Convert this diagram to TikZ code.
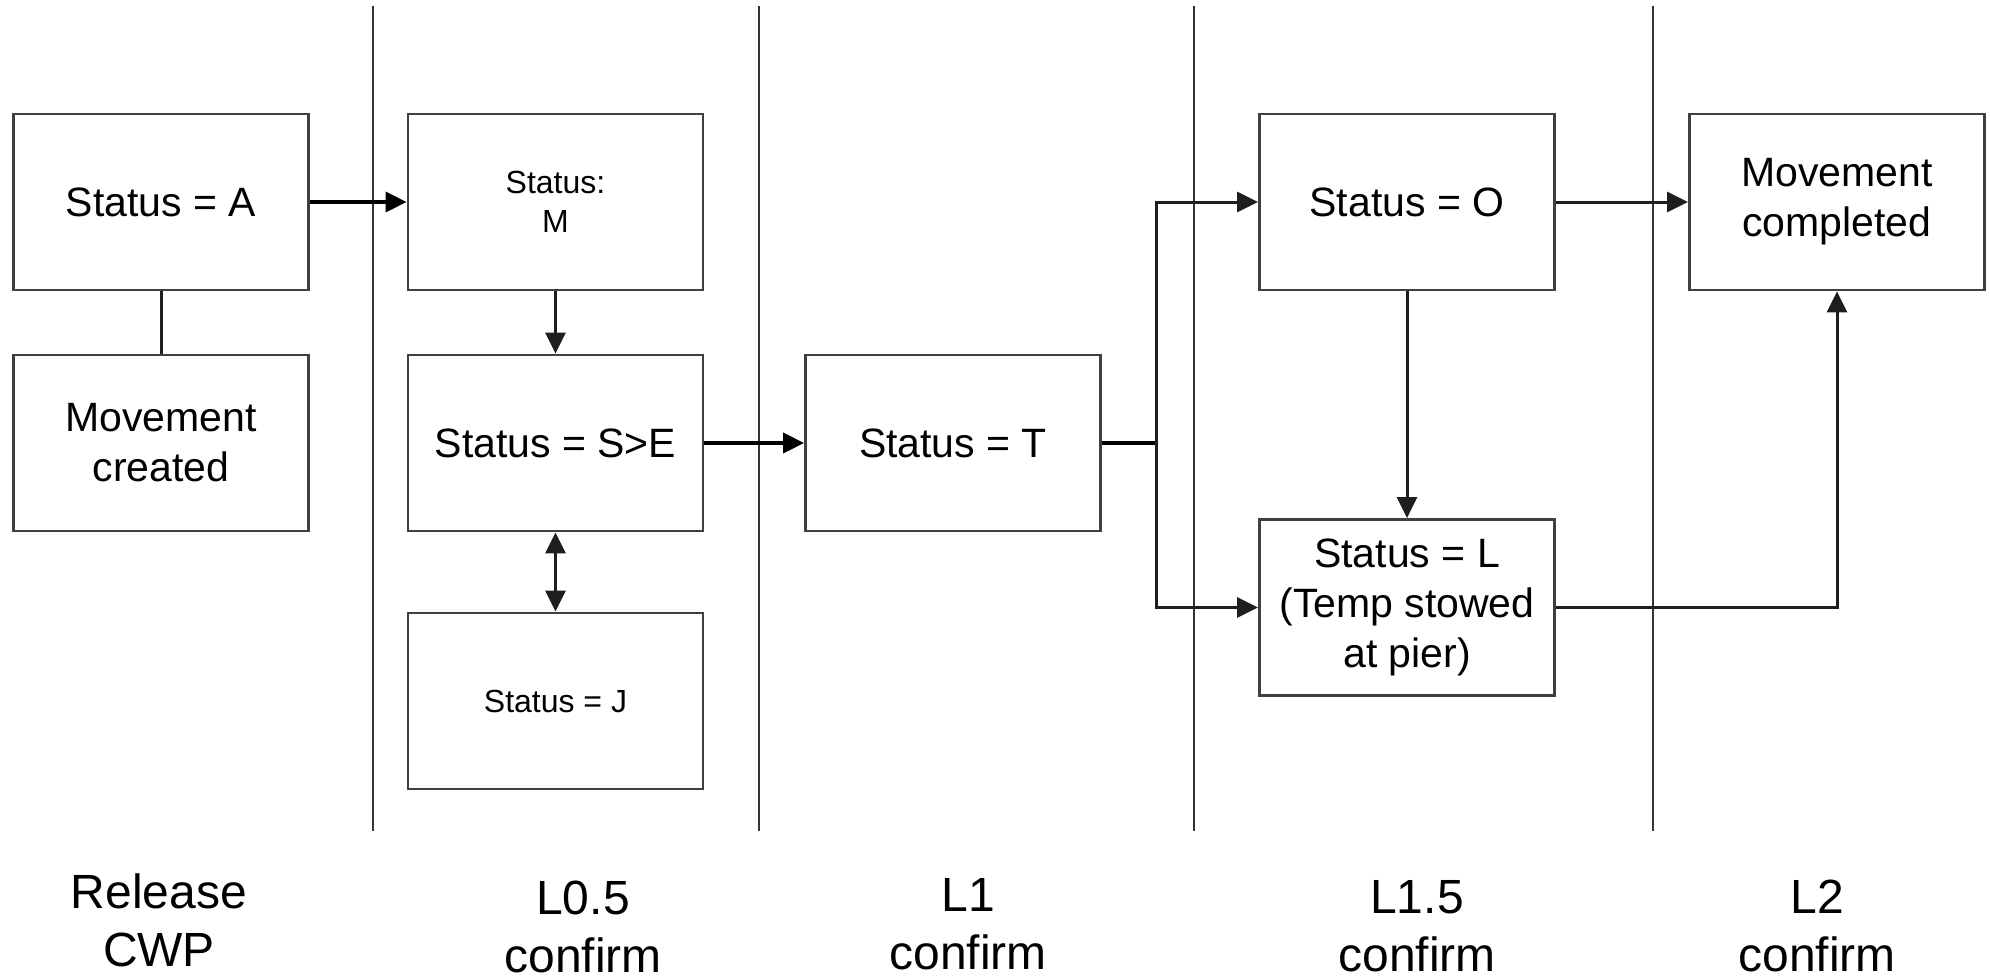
\documentclass[tikz,border=0pt]{standalone}
\usepackage{fontspec}
\setmainfont{Liberation Sans}
\usetikzlibrary{arrows.meta}
\definecolor{boxgray}{HTML}{404040}
\definecolor{sepgray}{HTML}{333333}
\definecolor{arrgray}{HTML}{1E1E1E}
\begin{document}
\begin{tikzpicture}[x=1pt,y=-1pt,
  box/.style={draw=boxgray, line width=2.8pt, minimum width=295pt, minimum height=176pt,
              inner sep=0pt, font=\fontsize{41}{50}\selectfont, align=center},
  smallbox/.style={box, font=\fontsize{32}{39}\selectfont},
  conn/.style={line width=3pt, draw=arrgray},
  thickconn/.style={line width=3.6pt, draw=black},
  tip/.tip={Triangle[length=21pt,width=20pt]},
  arr/.style={conn, -tip},
  thickarr/.style={thickconn, -tip},
  sep/.style={line width=1.8pt, draw=sepgray},
  lbl/.style={font=\fontsize{48}{58}\selectfont, align=center, inner sep=0pt}]
\useasboundingbox (0,0) rectangle (1990,980);

% lane separators
\draw[sep] (373,6) -- (373,831);
\draw[sep] (759,6) -- (759,831);
\draw[sep] (1194,6) -- (1194,831);
\draw[sep] (1653,6) -- (1653,831);

% boxes
\node[box] (A) at (161,202) {Status = A};
\node[box] (created) at (161,443) {Movement\\created};
\node[smallbox] (M) at (555.5,202) {Status:\\M};
\node[box] (SE) at (555.5,443) {Status = S>E};
\node[smallbox] (J) at (555.5,701) {Status = J};
\node[box] (T) at (953,443) {Status = T};
\node[box] (O) at (1407,202) {Status = O};
\node[box] (L) at (1407,607.5) {Status = L\\(Temp stowed\\at pier)};
\node[box] (C) at (1837,202) {Movement\\completed};

% connectors
\draw[conn] (A) -- (created);
\draw[thickarr] (A) -- (M);
\draw[arr] (M) -- (SE);
\draw[conn, tip-tip] (SE) -- (J);
\draw[thickarr] (SE) -- (T);
\coordinate (jn) at (1156,443);
\draw[thickconn] (T) -- (jn);
\draw[arr] (jn) |- (O);
\draw[arr] (jn) |- (L);
\draw[arr] (O) -- (L);
\draw[arr] (O) -- (C);
\draw[arr] (L) -| (C);

% lane labels
\node[lbl] (l0) at (159,920.5) {Release\\CWP};
\node[lbl] (l1) at (583,926.5) {L0.5\\confirm};
\node[lbl] (l2) at (968,924.5) {L1\\confirm};
\node[lbl] (l3) at (1417,926.5) {L1.5\\confirm};
\node[lbl] (l4) at (1817,925.5) {L2\\confirm};
\end{tikzpicture}
\end{document}
